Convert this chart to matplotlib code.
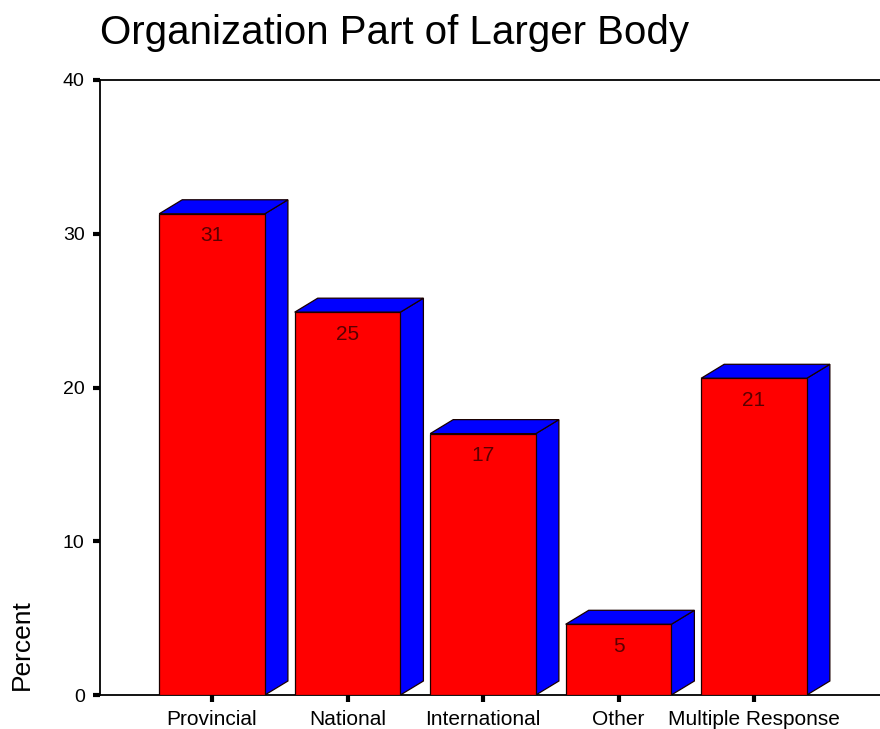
import numpy as np
import matplotlib
matplotlib.use("Agg")
import matplotlib.pyplot as plt
from matplotlib.patches import Polygon

plt.rcParams['font.family'] = ['Liberation Sans', 'DejaVu Sans']

categories = ['Provincial', 'National', 'International', 'Other', 'Multiple Response']
percent = [31.3, 24.9, 17.0, 4.6, 20.6]
y_ticks = [0, 10, 20, 30, 40]

front_color = '#ff0000'
depth_color = '#0000ff'
edge_color = '#1a0000'

bar_width = 0.78
depth_x = 0.17   # 3d offset, data units
depth_y = 0.91


#------------------------------------------------------------------------------
def draw_3d_bar(ax, x, h, width):
    left = x - width / 2
    right = x + width / 2
    # side face
    side = Polygon([(right, 0), (right + depth_x, depth_y), (right + depth_x, h + depth_y), (right, h)],
                   closed=True, facecolor=depth_color, edgecolor=edge_color, linewidth=0.9, zorder=2)
    # top face
    top = Polygon([(left, h), (left + depth_x, h + depth_y), (right + depth_x, h + depth_y), (right, h)],
                  closed=True, facecolor=depth_color, edgecolor=edge_color, linewidth=0.9, zorder=2)
    ax.add_patch(side)
    ax.add_patch(top)


fig = plt.figure(figsize=(8.8, 7.29), dpi=100)
ax = fig.add_axes([100 / 880, 34 / 729, 780 / 880, 615 / 729])

x = np.arange(len(categories))
ax.bar(x, percent, width=bar_width, color=front_color, edgecolor=edge_color, linewidth=0.9, zorder=3)
for xi, h in zip(x, percent):
    draw_3d_bar(ax, xi, h, bar_width)
    ax.annotate('{:.0f}'.format(h), (xi, h), xytext=(0, -22), textcoords='offset pixels',
                ha='center', va='center', fontsize=15, color='#5a0000', zorder=4)

ax.set_xlim(-0.827, 4.93)
ax.set_ylim(0, 40)
ax.set_xticks(x)
ax.set_xticklabels(categories, fontsize=15)
ax.set_yticks(y_ticks)
ax.set_yticklabels([str(t) for t in y_ticks], fontsize=14)
ax.tick_params(axis='both', direction='out', length=5, width=3, color='black')
ax.tick_params(axis='x', pad=6)
ax.tick_params(axis='y', pad=6)

for side in ['left', 'top', 'bottom']:
    ax.spines[side].set_linewidth(1.3)
    ax.spines[side].set_color('black')
ax.spines['right'].set_visible(False)

fig.text(100 / 880, 1 - 33 / 729, 'Organization Part of Larger Body', fontsize=29,
         ha='left', va='center', color='black')
fig.text(22 / 880, 1 - 645 / 729, 'Percent', fontsize=19, rotation=90,
         ha='center', va='center', color='black')

fig.savefig('out.png', dpi=100, facecolor='white')
